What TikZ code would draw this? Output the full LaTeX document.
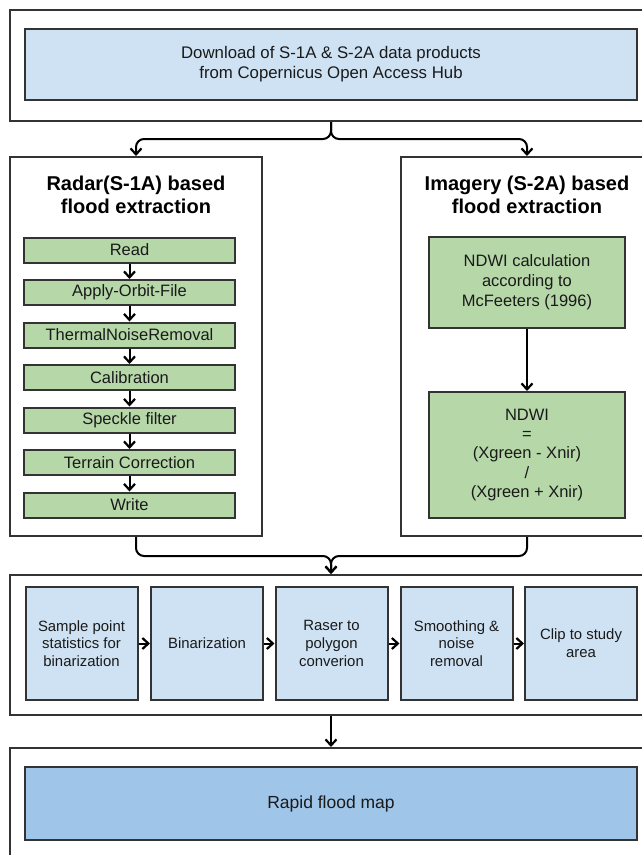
\documentclass[tikz,border=0pt]{standalone}
\usepackage{fontspec}
\setmainfont{Liberation Sans}
\usetikzlibrary{arrows.meta}
\definecolor{lblue}{HTML}{CFE2F3}
\definecolor{lgreen}{HTML}{B6D7A8}
\definecolor{dblue}{HTML}{9FC5E8}
\definecolor{edgec}{HTML}{333333}
\definecolor{txt}{HTML}{1A1A1A}
\begin{document}
\begin{tikzpicture}[x=1pt,y=-1pt,
  frame/.style={draw=edgec, line width=2pt, fill=white, inner sep=0pt},
  box/.style={draw=edgec, line width=2pt, inner sep=0pt, text=txt, align=center},
  bluebox/.style={box, fill=lblue},
  greenbox/.style={box, fill=lgreen, font=\fontsize{16.5}{20}\selectfont},
  stepbox/.style={greenbox, minimum width=211pt, minimum height=25pt},
  procbox/.style={bluebox, minimum width=112pt, minimum height=113pt, font=\fontsize{14.9}{17.7}\selectfont},
  title/.style={text=black, align=center, font=\fontsize{20}{23}\selectfont\bfseries},
  arr/.style={draw=black, line width=2pt, -{Straight Barb[length=6pt,width=11pt,line width=2.2pt]}},
]
\useasboundingbox (0,0) rectangle (642,855);
\clip (0,0) rectangle (642,855);

% frame 1
\node[frame, minimum width=642pt, minimum height=111pt] (f1) at (331,65.5) {};
\node[bluebox, minimum width=612pt, minimum height=71pt, font=\fontsize{16.8}{20}\selectfont] (dl) at (331,64.5)
  {Download of S-1A \& S-2A data products\\from Copernicus Open Access Hub};

% radar frame
\node[frame, minimum width=252pt, minimum height=379pt] (radar) at (136,346.5) {};
\node[title] (rtitle) at (136,195) {Radar(S-1A) based\\flood extraction};
\node[stepbox] (read) at (129.5,250) {Read};
\node[stepbox] (orbit) at (129.5,292.5) {Apply-Orbit-File};
\node[stepbox] (noise) at (129.5,335) {ThermalNoiseRemoval};
\node[stepbox] (calib) at (129.5,377.5) {Calibration};
\node[stepbox] (speck) at (129.5,420) {Speckle filter};
\node[stepbox] (terr) at (129.5,462.5) {Terrain Correction};
\node[stepbox] (write) at (129.5,505) {Write};

% imagery frame
\node[frame, minimum width=252pt, minimum height=379pt] (img) at (527,346.5) {};
\node[title] (ititle) at (527,195) {Imagery (S-2A) based\\flood extraction};
\node[greenbox, minimum width=196pt, minimum height=91pt] (ndwic) at (527,282.5)
  {NDWI calculation\\according to\\McFeeters (1996)};
\node[greenbox, minimum width=196pt, minimum height=126pt, font=\fontsize{16.5}{19.3}\selectfont] (ndwi) at (527,455)
  {NDWI\\=\\(Xgreen - Xnir)\\/\\(Xgreen + Xnir)};

% frame 3
\node[frame, minimum width=642pt, minimum height=140pt] (f3) at (331,645) {};
\node[procbox] (p1) at (81.5,643.5) {Sample point\\statistics for\\binarization};
\node[procbox] (p2) at (207,643.5) {Binarization};
\node[procbox] (p3) at (331.5,643.5) {Raser to\\polygon\\converion};
\node[procbox] (p4) at (456.5,643.5) {Smoothing \&\\noise\\removal};
\node[procbox] (p5) at (581,643.5) {Clip to study\\area};

% frame 4
\node[frame, minimum width=642pt, minimum height=122pt] (f4) at (331,809) {};
\node[box, fill=dblue, minimum width=612pt, minimum height=73pt, font=\fontsize{17.5}{20}\selectfont] (rapid) at (331,803.5) {Rapid flood map};

% connectors
\draw[arr, rounded corners=8pt] (f1.south) -- ++(0,17) -| (radar.north);
\draw[arr, rounded corners=8pt] (f1.south) -- ++(0,17) -| (img.north);
\draw[arr] (read) -- (orbit);
\draw[arr] (orbit) -- (noise);
\draw[arr] (noise) -- (calib);
\draw[arr] (calib) -- (speck);
\draw[arr] (speck) -- (terr);
\draw[arr] (terr) -- (write);
\draw[arr] (ndwic) -- (ndwi);
\draw[arr, rounded corners=8pt] (radar.south) -- ++(0,19) -| (f3.north);
\draw[arr, rounded corners=8pt] (img.south) -- ++(0,19) -| (f3.north);
\draw[arr] (p1) -- (p2);
\draw[arr] (p2) -- (p3);
\draw[arr] (p3) -- (p4);
\draw[arr] (p4) -- (p5);
\draw[arr] (f3) -- (f4);
\end{tikzpicture}
\end{document}
